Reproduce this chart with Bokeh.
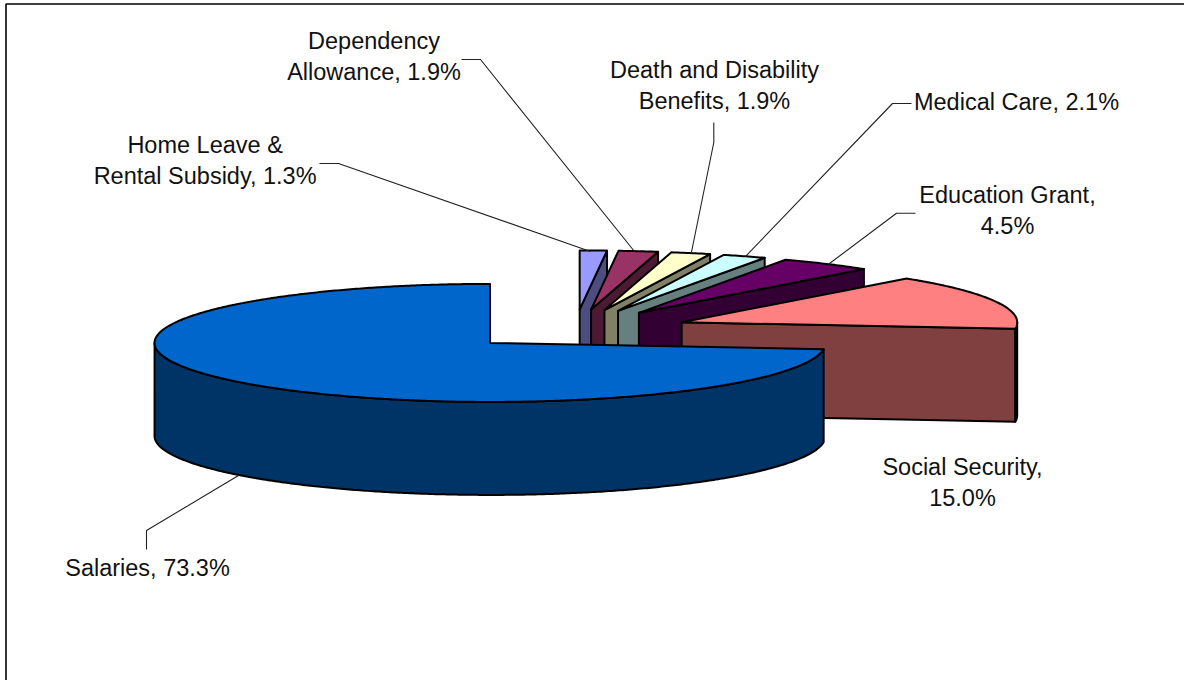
import math

from bokeh.core.properties import value
from bokeh.embed import file_html
from bokeh.models import Range1d
from bokeh.plotting import figure
from bokeh.resources import INLINE

# Budget shares in percent, clockwise from twelve o'clock.
slice_names = ["Home Leave & Rental Subsidy", "Dependency Allowance", "Death and Disability Benefits",
               "Medical Care", "Education Grant", "Social Security", "Salaries"]
slice_shares = [1.3, 1.9, 1.9, 2.1, 4.5, 15.0, 73.3]
top_colors = ["#9999FF", "#993366", "#FFFFCC", "#CCFFFF", "#660066", "#FF8080", "#0066CC"]
wall_colors = ["#4D4D80", "#4D1A33", "#808066", "#668080", "#330033", "#804040", "#003366"]

# Label lines with the centre and first baseline of each block.
label_lines = [
    ["Home Leave &", "Rental Subsidy, 1.3%"],
    ["Dependency", "Allowance, 1.9%"],
    ["Death and Disability", "Benefits, 1.9%"],
    ["Medical Care, 2.1%"],
    ["Education Grant,", "4.5%"],
    ["Social Security,", "15.0%"],
    ["Salaries, 73.3%"],
]
label_anchors = [(204.6, 144), (373.5, 40), (714, 69), (1016, 101), (1007, 194), (962, 466), (147, 567)]
leader_paths = [
    [(319, 163), (338, 163), (590, 251)],
    [(461, 59), (480, 59), (634, 251)],
    [(713.3, 122), (713.3, 142), (690.7, 253)],
    [(911, 103), (892, 103), (745, 256)],
    [(915, 212.7), (896, 212.7), (827.7, 264)],
    [(146, 549), (146, 530), (238, 475)],
]

# Projection of the tilted, exploded pie in screen pixels.
RX, RY, DEPTH = 335.5, 59.0, 93.0
CX, CY = 574.5, 329.0
EXPLODE = 114.2


def arc(ax, ay, a0, a1, drop=0.0):
    steps = max(2, int(abs(a1 - a0) * 2))
    pts = []
    for i in range(steps + 1):
        a = math.radians(a0 + (a1 - a0) * i / steps)
        pts.append((ax + RX * math.sin(a), ay - RY * math.cos(a) + drop))
    return pts


p = figure(width=1184, height=680, output_backend="svg", toolbar_location=None,
           x_range=Range1d(0, 1184), y_range=Range1d(680, 0), min_border=0)
p.axis.visible = False
p.grid.visible = False
p.outline_line_color = None
p.background_fill_color = "white"


def poly(points, fill):
    p.patch([q[0] for q in points], [q[1] for q in points], fill_color=fill,
            line_color="black", line_width=2, line_join="round")


# Frame around the chart area.
p.line([5.5, 5.5, 1184], [680, 3.5, 3.5], line_color="black", line_width=1.6)

total = sum(slice_shares)
start = 0.0
for share, top, wall in zip(slice_shares, top_colors, wall_colors):
    a0 = start / total * 360
    a1 = (start + share) / total * 360
    mid = math.radians((a0 + a1) / 2)
    ax = CX + EXPLODE * math.sin(mid)
    ay = CY - EXPLODE * RY / RX * math.cos(mid)
    if a1 < 180:
        # Cut face seen from the front, running from the apex to the end of the arc.
        end = arc(ax, ay, a1, a1)[0]
        poly([(ax, ay), end, (end[0], end[1] + DEPTH), (ax, ay + DEPTH)], wall)
    if a0 < 270 and a1 > 90:
        # Rim of the slice on the near side of the ellipse.
        lo, hi = max(a0, 90), min(a1, 270)
        rim_fill = "black" if hi - lo < 20 else wall
        poly(arc(ax, ay, lo, hi) + arc(ax, ay, hi, lo, DEPTH), rim_fill)
    poly([(ax, ay)] + arc(ax, ay, a0, a1), top)
    start += share

for path in leader_paths:
    p.line([q[0] for q in path], [q[1] for q in path], line_color="#222222", line_width=1.1)

LINE_STEP = 31
for lines, (lx, ly) in zip(label_lines, label_anchors):
    for i, t in enumerate(lines):
        p.text([lx], [ly + i * LINE_STEP], text=[t], text_align="center", text_baseline="alphabetic",
               text_font=value("Liberation Sans"), text_font_size="23.5px", text_color="#111111")

open("out.html", "w").write(file_html(p, INLINE))
